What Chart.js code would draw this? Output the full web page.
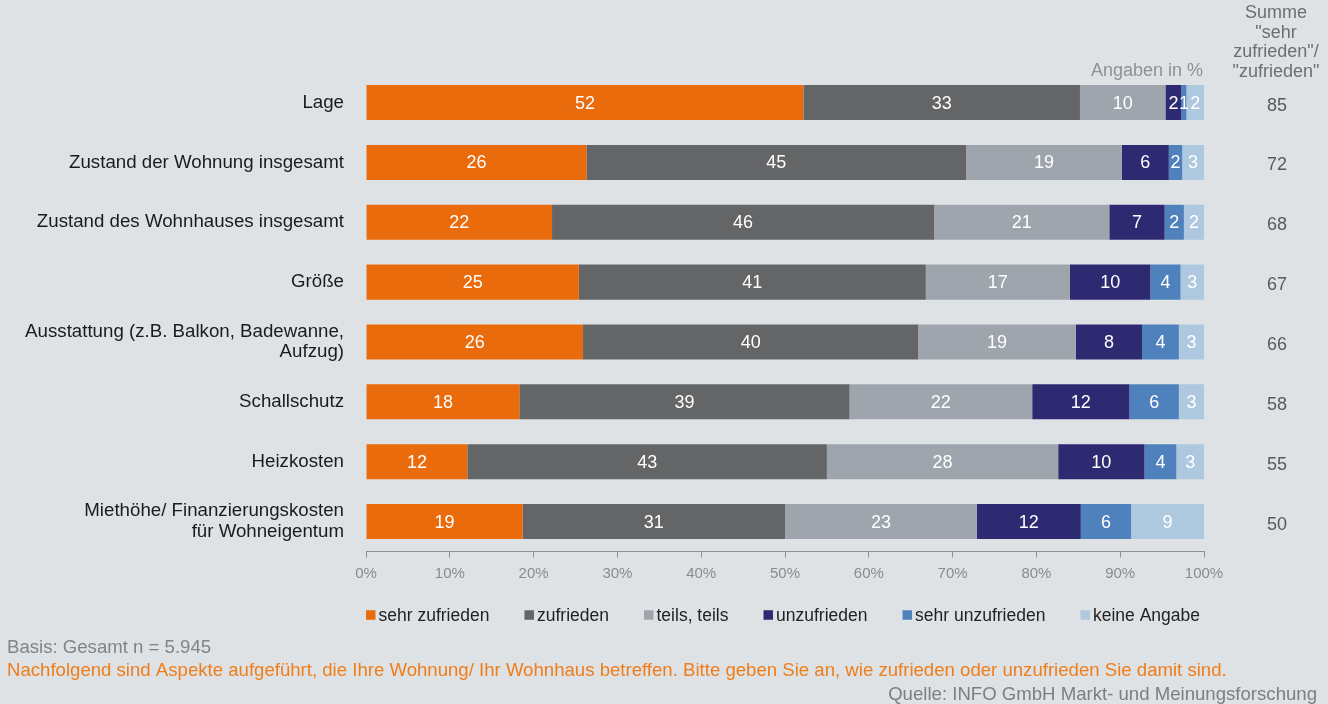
<!DOCTYPE html>
<html lang="de">
<head>
<meta charset="utf-8">
<title>Zufriedenheit mit Wohnung und Wohnhaus</title>
<script src="https://cdn.jsdelivr.net/npm/chart.js@4.4.1/dist/chart.umd.min.js"></script>
<style>
  html, body { margin: 0; padding: 0; background: #dfe2e5; }
  #chart { display: block; }
</style>
</head>
<body>
<canvas id="chart" width="1328" height="704"></canvas>
<script>
// Aspekte (Zeilen des Diagramms)
const categories = [
  "Lage",
  "Zustand der Wohnung insgesamt",
  "Zustand des Wohnhauses insgesamt",
  "Größe",
  ["Ausstattung (z.B. Balkon, Badewanne,", "Aufzug)"],
  "Schallschutz",
  "Heizkosten",
  ["Miethöhe/ Finanzierungskosten", "für Wohneigentum"],
];

// Anteile in %
const sehrZufrieden   = [52.2, 26.3, 22.2, 25.4, 25.9, 18.3, 12.1, 18.7];
const zufrieden       = [33.0, 45.3, 45.6, 41.4, 40.0, 39.4, 42.9, 31.3];
const teilsTeils      = [10.2, 18.6, 20.9, 17.2, 18.8, 21.8, 27.6, 22.9];
const unzufrieden     = [1.9, 5.6, 6.6, 9.6, 7.9, 11.6, 10.3, 12.4];
const sehrUnzufrieden = [0.6, 1.6, 2.3, 3.6, 4.4, 5.9, 3.8, 6.0];
const keineAngabe     = [2.1, 2.6, 2.4, 2.8, 3.0, 3.0, 3.3, 8.7];

const xTickValues = [0, 10, 20, 30, 40, 50, 60, 70, 80, 90, 100];

const FONT = "'Liberation Sans', Arial, Helvetica, sans-serif";

// Werte in die Balkensegmente schreiben
const segmentLabels = {
  id: "segmentLabels",
  afterDatasetsDraw(chart) {
    const ctx = chart.ctx;
    ctx.save();
    ctx.font = "18px " + FONT;
    ctx.fillStyle = "#ffffff";
    ctx.textAlign = "center";
    ctx.textBaseline = "middle";
    chart.data.datasets.forEach((ds, i) => {
      chart.getDatasetMeta(i).data.forEach((bar, j) => {
        const p = bar.getProps(["x", "y", "base"], true);
        ctx.fillText(String(Math.round(ds.data[j])), (p.x + p.base) / 2, p.y + 1);
      });
    });
    ctx.restore();
  },
};

// Summenspalte, Legende und Fußzeilen
const extras = {
  id: "extras",
  afterDraw(chart) {
    const ctx = chart.ctx;
    const yScale = chart.scales.y;
    ctx.save();

    // Kopf der Summenspalte
    ctx.font = "18px " + FONT;
    ctx.fillStyle = "#6d6e70";
    ctx.textAlign = "center";
    ctx.textBaseline = "alphabetic";
    ["Summe", "\"sehr", "zufrieden\"/", "\"zufrieden\""].forEach((t, i) => {
      ctx.fillText(t, 1276, 18 + i * 19.5);
    });

    ctx.fillStyle = "#8f9193";
    ctx.textAlign = "right";
    ctx.fillText("Angaben in %", 1203, 76);

    // Summe "sehr zufrieden" + "zufrieden"
    ctx.fillStyle = "#58595b";
    ctx.textAlign = "center";
    ctx.textBaseline = "middle";
    categories.forEach((c, i) => {
      const sum = Math.round(sehrZufrieden[i] + zufrieden[i]);
      ctx.fillText(String(sum), 1277, yScale.getPixelForValue(i) + 3);
    });

    // Legende
    ctx.font = "17.5px " + FONT;
    const items = chart.data.datasets;
    const box = 9.5;
    const widths = items.map((ds) => ctx.measureText(ds.label).width);
    const used = widths.reduce((a, w) => a + box + 3 + w, 0);
    const gap = (834 - used) / (items.length - 1);
    let lx = 366;
    const ly = 615;
    ctx.textAlign = "left";
    items.forEach((ds, i) => {
      ctx.fillStyle = ds.backgroundColor;
      ctx.fillRect(lx, ly - box / 2, box, box);
      ctx.fillStyle = "#222222";
      ctx.fillText(ds.label, lx + box + 3, ly + 1);
      lx += box + 3 + widths[i] + gap;
    });

    // Fußzeilen
    ctx.font = "18.6px " + FONT;
    ctx.textBaseline = "alphabetic";
    ctx.fillStyle = "#828384";
    ctx.fillText("Basis: Gesamt n = 5.945", 7, 653);
    ctx.fillStyle = "#ef7d1a";
    ctx.fillText(
      "Nachfolgend sind Aspekte aufgeführt, die Ihre Wohnung/ Ihr Wohnhaus betreffen. Bitte geben Sie an, wie zufrieden oder unzufrieden Sie damit sind.",
      7,
      676
    );
    ctx.fillStyle = "#7d7e80";
    ctx.textAlign = "right";
    ctx.fillText("Quelle: INFO GmbH Markt- und Meinungsforschung", 1317, 700);

    ctx.restore();
  },
};

function series(label, data, color) {
  return {
    label: label,
    data: data,
    backgroundColor: color,
    borderWidth: 0,
    barPercentage: 0.585,
    categoryPercentage: 1,
  };
}

new Chart(document.getElementById("chart"), {
  type: "bar",
  data: {
    labels: categories,
    datasets: [
      series("sehr zufrieden", sehrZufrieden, "#ea6b0c"),
      series("zufrieden", zufrieden, "#646567"),
      series("teils, teils", teilsTeils, "#9ea5ad"),
      series("unzufrieden", unzufrieden, "#2e2a72"),
      series("sehr unzufrieden", sehrUnzufrieden, "#4f81bd"),
      series("keine Angabe", keineAngabe, "#aec8e0"),
    ],
  },
  options: {
    indexAxis: "y",
    responsive: false,
    animation: false,
    layout: {
      padding: { top: 72.6, right: 124, bottom: 122.5, left: 0 },
    },
    plugins: {
      legend: { display: false },
      tooltip: { enabled: false },
    },
    scales: {
      x: {
        stacked: true,
        min: 0,
        max: 100,
        afterBuildTicks: (scale) => {
          scale.ticks = xTickValues.map((v) => ({ value: v }));
        },
        afterFit: (scale) => {
          scale.height = 30;
        },
        ticks: {
          callback: (v) => v + "%",
          color: "#8a8b8d",
          font: { family: FONT, size: 15 },
          padding: 7,
          maxRotation: 0,
        },
        grid: {
          drawOnChartArea: false,
          drawTicks: true,
          tickLength: 6,
          color: "#8e8f91",
        },
        border: { display: true, color: "#8e8f91" },
      },
      y: {
        stacked: true,
        afterFit: (scale) => {
          scale.width = 366;
        },
        ticks: {
          autoSkip: false,
          color: "#1b1b1b",
          font: { family: FONT, size: 18.7, lineHeight: 1.1 },
          padding: 14,
        },
        grid: { display: false },
        border: { display: false },
      },
    },
  },
  plugins: [segmentLabels, extras],
});
</script>
</body>
</html>
